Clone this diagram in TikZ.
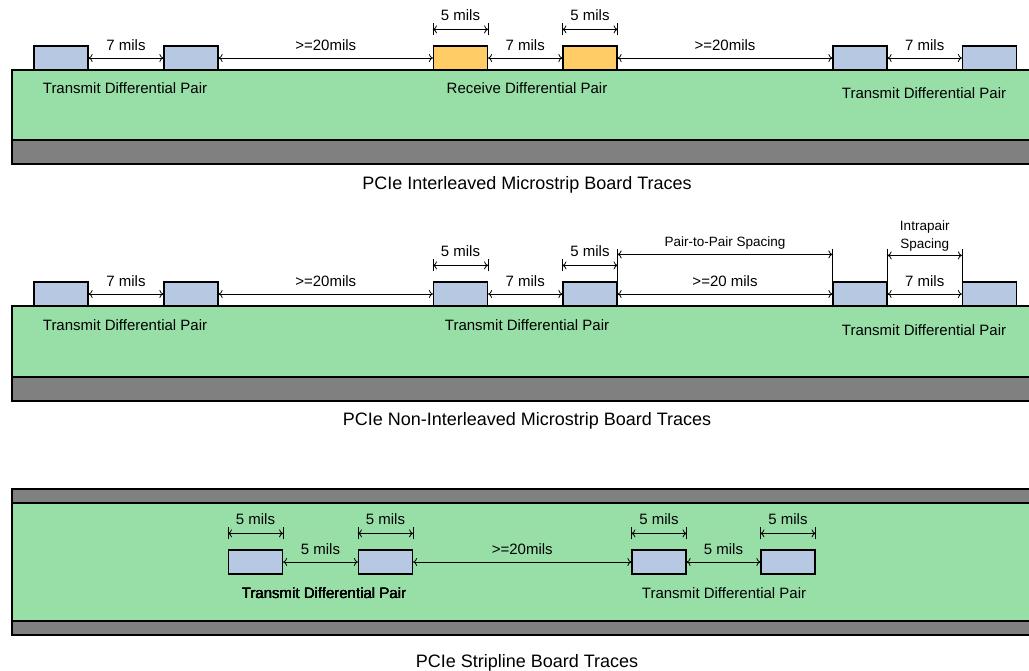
\documentclass[tikz,border=0pt]{standalone}
\usepackage{fontspec}
\setmainfont{Liberation Sans}
\usetikzlibrary{arrows.meta}
\definecolor{boardgreen}{HTML}{97DFA7}
\definecolor{traceblue}{HTML}{B7C9E2}
\definecolor{traceorange}{HTML}{FFCC66}
\definecolor{gndgray}{HTML}{808080}
\tikzset{board/.style={draw=black,fill=boardgreen,line width=1.5pt},
 gnd/.style={draw=black,fill=gndgray,line width=1.5pt},
 trace/.style={draw=black,fill=traceblue,line width=1.2pt,
  minimum width=54pt,minimum height=24pt,inner sep=0pt},
 rxtrace/.style={trace,fill=traceorange},
 gap/.style={{To[length=4pt,width=8pt]}-{To[length=4pt,width=8pt]},line width=0.8pt},
 tick/.style={line width=0.8pt},
 lbl/.style={inner sep=0pt,text depth=0pt,font=\fontsize{15}{18}\selectfont},
 small/.style={lbl,font=\fontsize{13.5}{18}\selectfont},
 title/.style={lbl,font=\fontsize{18}{22}\selectfont},
 }
% width of one trace, drawn above it
\newcommand{\widthdim}[1]{%
  \draw[tick] ([yshift=10pt]#1.north west) -- ([yshift=22pt]#1.north west);
  \draw[tick] ([yshift=10pt]#1.north east) -- ([yshift=22pt]#1.north east);
  \draw[gap] ([yshift=16pt]#1.north west) -- ([yshift=16pt]#1.north east);
  \node[lbl] at ([yshift=30pt]#1.north) {5 mils};}

\begin{document}
\begin{tikzpicture}[x=1pt,y=-1pt]
        \useasboundingbox (0,0) rectangle (1029,671);
        \clip (0,0) rectangle (1029,671);
        % interleaved microstrip
        \draw[board] (12,70) rectangle (1040,140);
        \draw[gnd] (12,140) rectangle (1040,164);
        \foreach \n/\x in {a/61, b/191, e/860, f/989.5}
            \node[trace] (m1\n) at (\x,58) {};
        \foreach \n/\x in {c/460.5, d/590}
            \node[rxtrace] (m1\n) at (\x,58) {};
        \foreach \l/\r/\txt in {a/b/7 mils, b/c/>=20mils, c/d/7 mils, d/e/>=20mils, e/f/7 mils}
            \draw[gap] (m1\l.east) -- node[lbl,yshift=13pt] {\txt} (m1\r.west);
        \widthdim{m1c}
        \widthdim{m1d}
        \node[lbl] (tx1a) at (125,88) {Transmit Differential Pair};
        \node[lbl] (rx1) at (527,88) {Receive Differential Pair};
        \node[lbl] (tx1b) at (924,93) {Transmit Differential Pair};
        \node[title] (t1) at (527,183) {PCIe Interleaved Microstrip Board Traces};
        % non-interleaved microstrip
        \draw[board] (12,306) rectangle (1040,377);
        \draw[gnd] (12,377) rectangle (1040,401);
        \foreach \n/\x in {a/61, b/191, c/460.5, d/590, e/860, f/989.5}
            \node[trace] (m2\n) at (\x,294) {};
        \foreach \l/\r/\txt in {a/b/7 mils, b/c/>=20mils, c/d/7 mils, d/e/>=20 mils, e/f/7 mils}
            \draw[gap] (m2\l.east) -- node[lbl,yshift=13pt] {\txt} (m2\r.west);
        \widthdim{m2c}
        \widthdim{m2d}
        \draw[tick] (m2d.north east) -- ([yshift=32pt]m2d.north east);
        \draw[tick] (m2e.north west) -- ([yshift=32pt]m2e.north west);
        \draw[gap] ([yshift=27pt]m2d.north east) -- node[small,yshift=13pt] {Pair-to-Pair Spacing} ([yshift=27pt]m2e.north west);
        \draw[tick] (m2e.north east) -- ([yshift=32pt]m2e.north east);
        \draw[tick] (m2f.north west) -- ([yshift=32pt]m2f.north west);
        \draw[gap] ([yshift=26pt]m2e.north east) -- node[small,align=center,yshift=21pt] {Intrapair\\Spacing} ([yshift=26pt]m2f.north west);
        \node[lbl] (tx2a) at (125,325) {Transmit Differential Pair};
        \node[lbl] (tx2b) at (527,325) {Transmit Differential Pair};
        \node[lbl] (tx2c) at (924,330) {Transmit Differential Pair};
        \node[title] (t2) at (527,419) {PCIe Non-Interleaved Microstrip Board Traces};
        % stripline
        \draw[gnd] (12,489) rectangle (1040,503);
        \draw[board] (12,503) rectangle (1040,621);
        \draw[gnd] (12,621) rectangle (1040,635);
        \foreach \n/\x in {a/255.5, b/385.5, c/659, d/788}
            \node[trace] (s\n) at (\x,562) {};
        \foreach \l/\r/\txt in {a/b/5 mils, b/c/>=20mils, c/d/5 mils}
            \draw[gap] (s\l.east) -- node[lbl,yshift=13pt] {\txt} (s\r.west);
        \foreach \n in {a, b, c, d}
            \widthdim{s\n}
        \node[lbl] (tx3a) at (324,593) {Transmit Differential Pair};
        \node[lbl] (tx3b) at (724,593) {Transmit Differential Pair};
        \node[title] (t3) at (527,661) {PCIe Stripline Board Traces};
    \end{tikzpicture}
\end{document}
